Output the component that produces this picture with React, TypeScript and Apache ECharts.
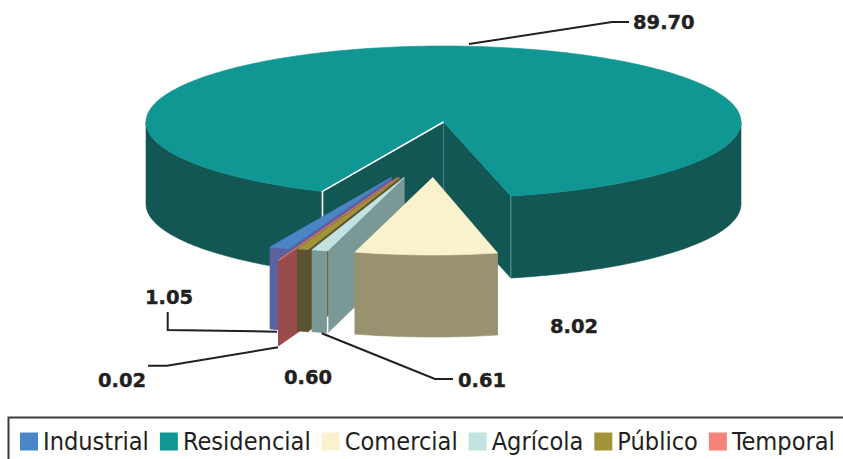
import React, { useEffect, useRef } from "react";
import * as echarts from "echarts";

const categories = ["Industrial", "Residencial", "Comercial", "Agrícola", "Público", "Temporal"];
const values = [1.05, 89.7, 8.02, 0.61, 0.6, 0.02];
const topColors = ["#4A86C6", "#109693", "#FAF2CD", "#C2E3DF", "#A0943A", "#F6837A"];
const sideColors = ["#5B639F", "#135755", "#98926F", "#7A9896", "#5C5230", "#9A4B4B"];
const drawOrder = [1, 0, 5, 4, 3, 2];

// Pie projection
const CX = 443.5, CY = 122, RX = 297.5, RY = 76, DEPTH = 82;
const FIRST_ANGLE = 200.22;
const EXPLODE_Y = 55.5;
const nudgeX = [0, 0, 1, 3, 3, 3];
const scaleX = [1, 1, 0.96, 1, 1, 1.16];
const scaleY = [1, 1, 1.02, 1, 1, 1.16];
const depthScale = [1, 1, 1, 1, 1, 1.04];
const startAngleNudge = [0, 0, 0, -0.9, 0, 0];
const FONT_BOLD = "'DejaVu Sans'";
const FONT_LEGEND = "'DejaVu Sans Condensed'";

type Pt = [number, number];
const total = values.reduce((a, b) => a + b, 0);
const slices = (() => {
  let a = FIRST_ANGLE;
  return values.map((v, i) => {
    const a0 = a;
    const a1 = a + (v / total) * 360;
    a = a1;
    const mid = (((a0 + a1) / 2) * Math.PI) / 180;
    const exploded = categories[i] !== "Residencial";
    return {
      a0: a0 + startAngleNudge[i],
      a1,
      ox: exploded ? -9 + 115 * Math.sin(mid) + nudgeX[i] : 0,
      oy: exploded ? EXPLODE_Y : 0,
      sx: scaleX[i],
      sy: scaleY[i],
      depth: DEPTH * depthScale[i],
    };
  });
})();

function renderSlice(i: number) {
  const s = slices[i];
  const fillTop = topColors[i];
  const fillSide = sideColors[i];
  const apex: Pt = [CX + s.ox, CY + s.oy];
  const rim = (deg: number): Pt => {
    const t = (deg * Math.PI) / 180;
    return [apex[0] + RX * s.sx * Math.sin(t), apex[1] - RY * s.sy * Math.cos(t)];
  };
  const down = (p: Pt): Pt => [p[0], p[1] + s.depth];
  const arc = (from: number, to: number): Pt[] => {
    const n = Math.max(2, Math.ceil(Math.abs(to - from)));
    const out: Pt[] = [];
    for (let k = 0; k <= n; k++) out.push(rim(from + ((to - from) * k) / n));
    return out;
  };
  const poly = (points: Pt[], fill: string) => ({
    type: "polygon",
    silent: true,
    shape: { points },
    style: { fill, stroke: fill, lineWidth: 0.6 },
  });
  const line = (points: Pt[], stroke: string, lineWidth: number) => ({
    type: "polyline",
    silent: true,
    shape: { points },
    style: { fill: "none", stroke, lineWidth },
  });
  const wall = (deg: number) => {
    const p = rim(deg);
    return poly([apex, p, down(p), down(apex)], fillSide);
  };
  const children: any[] = [wall(s.a1), wall(s.a0)];
  // outer rim, only the part that faces the viewer (90..270 degrees)
  [[90, 270], [450, 630]].forEach(([lo, hi]) => {
    const from = Math.max(s.a0, lo);
    const to = Math.min(s.a1, hi);
    if (to > from) {
      const edge = arc(from, to);
      children.push(poly([...edge, ...edge.slice().reverse().map(down)], fillSide));
    }
  });
  children.push(poly([apex, ...arc(s.a0, s.a1)], fillTop));
  if (categories[i] === "Residencial") {
    const a = rim(s.a0);
    const b = rim(s.a1);
    children.push(line([apex, down(apex)], "#3F8583", 1));
    children.push(line([b, down(b)], "#5C9C99", 1));
    children.push(line([apex, a, down(a)], "#FFFFFF", 1.6));
  }
  if (categories[i] === "Agrícola") {
    const p = rim(s.a0);
    const q: Pt = [p[0], p[1] + s.depth * 0.8];
    children.push(line([p, q], "#6B5F3A", 1));
    children.push(line([q, down(p)], "#FFFFFF", 1.5));
  }
  return { type: "group", children };
}

const labelStyle = (text: string, x: number, y: number) => ({
  type: "text",
  silent: true,
  x,
  y,
  z: 20,
  style: {
    text,
    fill: "#231F20",
    stroke: "#231F20",
    lineWidth: 0.4,
    font: `bold 19.5px ${FONT_BOLD}`,
    textAlign: "left",
    textVerticalAlign: "middle",
  },
});
const leader = (points: Pt[]) => ({
  type: "polyline",
  silent: true,
  z: 19,
  shape: { points },
  style: { fill: "none", stroke: "#231F20", lineWidth: 2 },
});
const fmt = (name: string) => values[categories.indexOf(name)].toFixed(2);

export default function App() {
  const ref = useRef<HTMLDivElement>(null);
  useEffect(() => {
    const chart = echarts.init(ref.current!, undefined, { renderer: "svg" });
    chart.setOption({
      animation: false,
      backgroundColor: "#FFFFFF",
      legend: {
        data: categories,
        left: 20,
        top: 429,
        padding: 0,
        itemWidth: 18,
        itemHeight: 18,
        itemGap: 11,
        icon: "rect",
        selectedMode: false,
        textStyle: { fontFamily: FONT_LEGEND, fontSize: 25.1, color: "#231F20" },
      },
      series: drawOrder.map((i) => ({
        type: "custom",
        name: categories[i],
        coordinateSystem: "none",
        silent: true,
        color: topColors[i],
        itemStyle: { color: topColors[i] },
        data: [[values[i]]],
        renderItem: () => renderSlice(i),
      })),
      graphic: [
        {
          type: "rect",
          silent: true,
          z: -1,
          shape: { x: 8.5, y: 417.5, width: 900, height: 100 },
          style: { fill: "none", stroke: "#3A3A3A", lineWidth: 2 },
        },
        leader([[469, 44], [612, 22], [629, 22]]),
        leader([[167.7, 312], [167.7, 330], [277, 331.7]]),
        leader([[148, 365.7], [167, 365.7], [278, 347.3]]),
        leader([[321.7, 333.3], [435, 379], [453, 379]]),
        labelStyle(fmt("Residencial"), 633, 22),
        labelStyle(fmt("Industrial"), 145, 297),
        labelStyle(fmt("Temporal"), 98, 380),
        labelStyle(fmt("Público"), 284, 377),
        labelStyle(fmt("Agrícola"), 458, 380),
        labelStyle(fmt("Comercial"), 550, 326),
      ],
    });
    return () => chart.dispose();
  }, []);
  return (
    <div
      ref={ref}
      style={{ position: "fixed", left: 0, top: 0, width: 843, height: 459, background: "#fff" }}
    />
  );
}
